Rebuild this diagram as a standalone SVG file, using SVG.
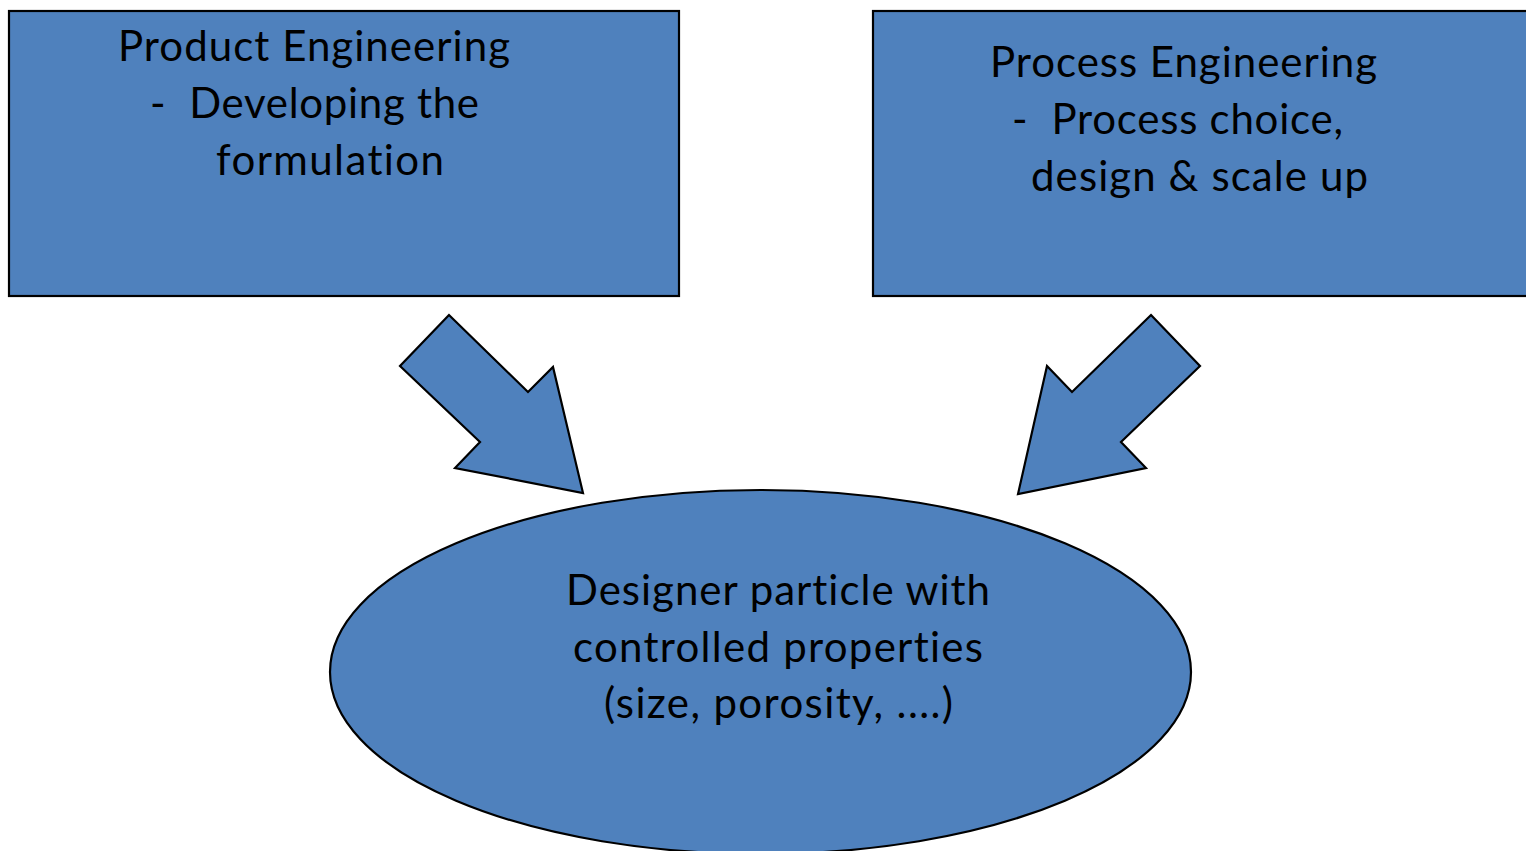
<svg xmlns="http://www.w3.org/2000/svg" width="1526" height="851" viewBox="0 0 1526 851">
<style>
.shape{fill:#4F81BD;stroke:#000;stroke-width:2.2;stroke-linejoin:miter}
.t{font-family:Lato,"Open Sans","Liberation Sans",sans-serif;font-size:42px;fill:#000;font-variant-ligatures:none;font-feature-settings:"liga" 0}
</style>
<rect width="1526" height="851" fill="#fff"/>
<g id="product">
<rect class="shape" x="9" y="11" width="670" height="285"/>
<text class="t" x="118" y="61" textLength="392">Product Engineering</text>
<text class="t" x="150" y="118" textLength="329" xml:space="preserve">-  Developing the</text>
<text class="t" x="216" y="175" textLength="228">formulation</text>
</g>
<g id="process">
<rect class="shape" x="873" y="11" width="660" height="285"/>
<text class="t" x="990" y="77" textLength="387">Process Engineering</text>
<text class="t" x="1012" y="134" textLength="331" xml:space="preserve">-  Process choice,</text>
<text class="t" x="1031" y="191" textLength="337">design &amp; scale up</text>
</g>
<g id="connectors">
<polygon class="shape" points="449,315 400,366 480,442 455,468 583,493 553,367 528,392"/>
<polygon class="shape" points="1151,315 1200,366 1121,442 1146,468 1018,494 1047,366 1072,392"/>
</g>
<g id="particle">
<ellipse class="shape" cx="760.5" cy="672" rx="430.5" ry="182"/>
<text class="t" x="566" y="605" textLength="424">Designer particle with</text>
<text class="t" x="573" y="662" textLength="410">controlled properties</text>
<text class="t" x="604" y="718" textLength="349">(size, porosity, ....)</text>
</g>
</svg>
